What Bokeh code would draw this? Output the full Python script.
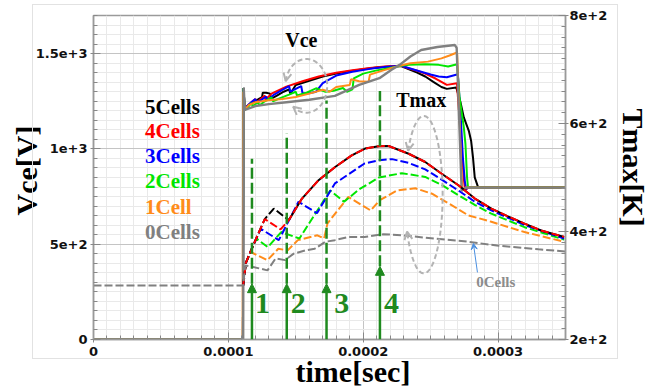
import numpy as np
from bokeh.plotting import figure
from bokeh.models import (Range1d, LinearAxis, FixedTicker, Label, Arrow, NormalHead,
                          OpenHead, VeeHead, Legend, LegendItem, Title, InlineStyleSheet)
from bokeh.embed import file_html
from bokeh.resources import INLINE

US = 1e-6  # time values below are in microseconds

names = ["5Cells", "4Cells", "3Cells", "2Cells", "1Cell", "0Cells"]
colors = ["#000000", "#ff0000", "#0000ff", "#00e600", "#ff8c1a", "#808080"]

# ---------------- Vce [V] (solid) ----------------
vce5_t = [0, 110.8, 111.2, 112.2, 114, 118, 122, 125, 125.5, 128, 131, 131.5, 136, 141, 145, 146, 150, 160, 170,
          180, 190, 200, 210, 220, 228, 234, 240, 246, 252, 258, 262, 269, 272.2, 274.6, 278.3, 280, 281.4, 282.7,
          285.1, 287, 350]
vce5_v = [0, 0, 1320, 1205, 1225, 1245, 1260, 1272, 1295, 1295, 1290, 1262, 1280, 1300, 1312, 1290, 1335, 1358,
          1380, 1396, 1408, 1418, 1427, 1432, 1435, 1418, 1400, 1380, 1352, 1325, 1315, 1322, 1243, 1165, 1095, 1043,
          956, 851, 801, 797, 797]
vce4_t = [0, 110.8, 111.2, 112.2, 114, 118, 120, 120.5, 124, 127, 127.5, 132, 143, 155, 167, 180, 192, 205, 216,
          228, 234, 240, 246, 254, 262, 269.5, 272, 274.5, 275.5, 278, 350]
vce4_v = [0, 0, 1320, 1205, 1225, 1250, 1262, 1240, 1262, 1280, 1258, 1290, 1327, 1355, 1380, 1400, 1413, 1424,
          1432, 1436, 1422, 1410, 1395, 1368, 1336, 1345, 1100, 850, 785, 797, 797]
vce3_t = [0, 110.8, 111.2, 112.2, 114, 117, 120, 121, 124, 128, 129, 134, 140, 145, 146, 150, 154, 155, 160, 165,
          170, 180, 192, 205, 216, 228, 241, 250, 256, 262, 270.2, 272.2, 273.9, 275.3, 276.3, 278, 350]
vce3_v = [0, 0, 1320, 1205, 1225, 1245, 1262, 1240, 1255, 1275, 1255, 1285, 1310, 1330, 1300, 1315, 1330, 1292,
          1292, 1300, 1345, 1385, 1405, 1420, 1430, 1436, 1409, 1390, 1380, 1376, 1392, 1183, 956, 834, 790, 797, 797]
vce2_t = [0, 110.8, 111.2, 112.2, 114, 117, 118, 122, 123, 127, 132, 133, 138, 145, 150, 151, 158, 165, 172, 178,
          185, 188, 192, 193, 200, 210, 220, 228, 234, 246, 256, 263, 269.6, 271.4, 274.6, 275.8, 277, 277.7, 280, 350]
vce2_v = [0, 0, 1320, 1205, 1215, 1240, 1225, 1245, 1228, 1250, 1270, 1250, 1265, 1285, 1300, 1280, 1295, 1318,
          1300, 1305, 1320, 1300, 1312, 1370, 1395, 1412, 1425, 1436, 1441, 1444, 1441, 1432, 1444, 1270, 1113, 1026,
          851, 799, 797, 797]
vce1_t = [0, 110.6, 111.0, 112.2, 115, 120, 130, 140, 150, 160, 170, 175, 180, 190, 191, 197, 204, 205, 215, 227,
          235, 248, 258, 264, 269.6, 271, 272.5, 273.5, 276, 350]
vce1_v = [0, 0, 1300, 1205, 1230, 1245, 1255, 1262, 1272, 1290, 1310, 1300, 1325, 1335, 1365, 1355, 1353, 1390,
          1412, 1436, 1449, 1458, 1475, 1490, 1506, 1250, 950, 785, 797, 797]
vce0_t = [0, 111.0, 111.4, 112.2, 120, 130, 143, 160, 179, 197, 212, 221, 227, 235, 243, 255, 268, 269.3, 273,
          276, 350]
vce0_v = [0, 0, 1320, 1205, 1225, 1235, 1245, 1258, 1278, 1336, 1371, 1415, 1441, 1485, 1519, 1535, 1545, 1530,
          780, 797, 797]

# ---------------- Tmax [K] (dashed) ----------------
tm5_t = [0, 111, 113, 118, 127, 133.7, 144.8, 154.6, 166.9, 179.2, 191.5, 201.3, 211.6, 218.9, 233.7, 246, 258.2,
         270.6, 282.8, 295, 307.3, 319.6, 331.8, 349]
tm5_k = [300, 300, 342, 372, 423, 442.5, 421, 461, 495, 519.5, 541, 553.5, 558, 558.3, 544, 528.7, 507, 485.6, 461,
         442.5, 428, 414.7, 402, 390]
tm4_t = [0, 111, 113, 118, 127, 138.7, 144.8, 154.6, 166.9, 179.2, 191.5, 201.3, 211.6, 218.9, 233.7, 246, 258.2,
         270.6, 282.8, 295, 307.3, 319.6, 331.8, 349]
tm4_k = [300, 300, 342, 372, 423, 404, 421, 461, 495, 519.5, 541, 553.5, 558, 558.3, 544, 528.7, 507, 485.6, 461,
         442.5, 428, 414.7, 402, 390]
tm3_t = [0, 111, 113, 118, 124, 137.4, 152, 165.7, 179, 191.5, 201, 211.6, 221.4, 233.7, 246, 258.2, 270.6, 282.8,
         295, 319.6, 349]
tm3_k = [300, 300, 342, 372, 405, 384, 455, 434, 489, 510, 526, 532, 534, 527, 515, 496, 476, 455, 439, 412, 387]
tm2_t = [0, 111, 113, 120.8, 129.3, 139.2, 152.7, 175.5, 185.8, 197, 211.6, 228.7, 246, 258.5, 270.7, 283, 295,
         319.6, 349]
tm2_k = [300, 300, 342, 387, 371, 399, 387, 476, 455, 478, 500, 508, 501, 486, 467, 449, 433, 408, 385]
tm1_t = [0, 111, 113, 116.5, 129, 137, 144, 151.5, 166, 171, 173.5, 189, 205.5, 212.3, 225, 238.6, 251, 265.5,
         277.8, 295, 319.6, 349]
tm1_k = [300, 300, 342, 362, 347, 368, 365, 384, 393, 387, 415, 464, 439, 458, 476, 480, 470, 449, 430, 418, 399,
         381]
tm0_t = [0, 111, 112.5, 119, 129, 135, 142, 148.5, 157, 164, 172, 179, 189, 201, 215, 228, 253, 278, 299, 330, 350]
tm0_k = [300, 300, 337, 334, 328, 350, 347, 359, 365, 368, 381, 384, 390, 390, 395, 393, 387, 381, 374, 367, 363]

# ---------------- markers 1..4 ----------------
marker_t = [117.5, 143.3, 172.8, 212.4]
marker_top_v = [949, 1081, 1254, 1304]
marker_tip_v = [293, 293, 293, 384]
marker_text = ["1", "2", "3", "4"]
marker_text_t = [125.4, 151.9, 184.0, 220.9]
marker_text_v = [190, 190, 190, 190]

# tick labels
x_ticks = [0, 1e-4, 2e-4, 3e-4]
x_tick_labels = ["0", "0.0001", "0.0002", "0.0003"]
v_ticks = [0, 500, 1000, 1500]
v_tick_labels = ["0", "5e+2", "1e+3", "1.5e+3"]
k_ticks = [200, 400, 600, 800]
k_tick_labels = ["2e+2", "4e+2", "6e+2", "8e+2"]

GREEN = "#1f8a1f"
SERIF = "Liberation Serif"

p = figure(width=657, height=392, x_range=Range1d(0, 350e-6), y_range=Range1d(0, 1700),
           output_backend="svg", toolbar_location=None,
           min_border_left=93, min_border_right=90, min_border_top=15, min_border_bottom=53)
p.extra_y_ranges = {"T": Range1d(200, 800)}
p.background_fill_color = "white"
p.border_fill_color = "white"
p.outline_line_color = "#9a9a9a"
p.outline_line_width = 1.5
# faint outer frame around the plotting block
p.stylesheets = [InlineStyleSheet(css=":host::after { content: ''; position: absolute; left: 32px; top: 4px; "
                                      "width: 584px; height: 353px; border: 1px solid #e2e2e2; "
                                      "pointer-events: none; }")]

xt = FixedTicker(ticks=x_ticks, minor_ticks=[i * 1e-5 for i in range(36)])
yt = FixedTicker(ticks=v_ticks, minor_ticks=list(range(0, 1701, 50)))
kt = FixedTicker(ticks=k_ticks, minor_ticks=list(range(200, 801, 20)))

p.xaxis.ticker = xt
p.yaxis.ticker = yt
p.xgrid.ticker = xt
p.ygrid.ticker = yt
p.xaxis.major_label_overrides = dict(zip(x_ticks, x_tick_labels))
p.yaxis.major_label_overrides = dict(zip(v_ticks, v_tick_labels))

axT = LinearAxis(y_range_name="T", ticker=kt, major_label_overrides=dict(zip(k_ticks, k_tick_labels)))
p.add_layout(axT, "right")

for ax in [p.xaxis[0], p.yaxis[0], axT]:
    ax.major_label_text_font = "DejaVu Sans"
    ax.major_label_text_font_style = "bold"
    ax.major_label_text_font_size = "13px"
    ax.major_label_text_color = "#111111"
    ax.axis_line_color = "#9a9a9a"
    ax.axis_line_width = 1.5
    ax.major_tick_line_color = "#888888"
    ax.minor_tick_line_color = "#888888"
    ax.major_tick_in = 7
    ax.major_tick_out = 3
    ax.minor_tick_in = 4
    ax.minor_tick_out = 0
p.xaxis.major_label_standoff = 4
p.yaxis.major_label_standoff = 3
axT.major_label_standoff = 1

for g in [p.xgrid[0], p.ygrid[0]]:
    g.grid_line_color = "#c4c4c4"
    g.minor_grid_line_color = "#e9e9e9"

# axis titles
title_style = dict(text_font=SERIF, text_font_style="bold", text_font_size="30px", text_color="black",
                   align="left")
p.add_layout(Title(text="Vce[V]", offset=124, standoff=-20, vertical_align="bottom", **title_style), "left")
p.add_layout(Title(text="time[sec]", offset=202, standoff=-8, vertical_align="top", **title_style), "below")
p.add_layout(Title(text="Tmax[K]", offset=93, standoff=12, vertical_align="bottom", **title_style), "right")

# ---------------- Vce lines ----------------
vce_sets = [(vce5_t, vce5_v), (vce4_t, vce4_v), (vce3_t, vce3_v), (vce2_t, vce2_v), (vce1_t, vce1_v),
            (vce0_t, vce0_v)]
for (t, v), c in zip(vce_sets, colors):
    p.line(np.array(t) * US, v, line_color=c, line_width=2.4 if c == colors[5] else 2)

# ---------------- Tmax lines ----------------
# (the pre-turn-on part at 300 K is shared by all series; only the 0Cells trace is drawn there)
DASH = "8 3"
for (t, k), c in [((tm1_t, tm1_k), colors[4]), ((tm2_t, tm2_k), colors[3]), ((tm3_t, tm3_k), colors[2])]:
    p.line(np.array(t[1:]) * US, k[1:], line_color=c, line_width=2, line_dash=DASH, y_range_name="T")
t5 = np.array(tm5_t)
k5 = np.array(tm5_k)
split = 144.8
early = (t5 <= split) & (t5 > 0)
p.line(t5[early] * US, k5[early], line_color=colors[0], line_width=2, line_dash=DASH, y_range_name="T")
p.line(t5[t5 >= split] * US, k5[t5 >= split], line_color=colors[0], line_width=2, y_range_name="T")
p.line(np.array(tm4_t[1:]) * US, tm4_k[1:], line_color=colors[1], line_width=2, line_dash=DASH, y_range_name="T")
p.line(np.array(tm0_t) * US, tm0_k, line_color=colors[5], line_width=2, line_dash=DASH, y_range_name="T")

# ---------------- markers ----------------
for t, top, tip, txt, tx, ty in zip(marker_t, marker_top_v, marker_tip_v, marker_text, marker_text_t, marker_text_v):
    p.line([t * US, t * US], [tip, top], line_color=GREEN, line_width=2.5, line_dash="11 4")
    p.add_layout(Arrow(end=NormalHead(size=9, fill_color=GREEN, line_color=GREEN, line_width=1),
                       x_start=t * US, y_start=0, x_end=t * US, y_end=tip,
                       line_color=GREEN, line_width=2.5))
    p.add_layout(Label(x=tx * US, y=ty, text=txt, text_align="center", text_baseline="alphabetic",
                       text_font=SERIF, text_font_style="bold", text_font_size="30px", text_color=GREEN))

# ---------------- circular arrows ----------------
ARC = "#b3b3b3"
def arc_xy(cx, cy, rx, ry, a):
    th = np.radians(a)
    return cx + rx * np.cos(th), cy + ry * np.sin(th)

for cx, cy, rx, ry, a0, a1 in [(157.8, 1331, 15.5, 141, 170, -129), (244.9, 760, 14.0, 413, 146, -152)]:
    ang = np.linspace(a0, a1, 80)
    xs, ys = arc_xy(cx, cy, rx, ry, ang)
    p.line(xs * US, ys, line_color=ARC, line_width=2, line_dash="5 3")
    for a_from, a_to in [(a0 - 12, a0), (a1 + 12, a1)]:
        x0, y0 = arc_xy(cx, cy, rx, ry, a_from)
        x1, y1 = arc_xy(cx, cy, rx, ry, a_to)
        p.add_layout(Arrow(end=OpenHead(size=8, line_color=ARC, line_width=2),
                           x_start=x0 * US, y_start=y0, x_end=x1 * US, y_end=y1, line_alpha=0))

# text annotations
p.add_layout(Label(x=154.1 * US, y=1514, text="Vce", text_align="center", text_font=SERIF,
                   text_font_style="bold", text_font_size="20px", text_color="black"))
p.add_layout(Label(x=243.0 * US, y=1200, text="Tmax", text_align="center", text_font=SERIF,
                   text_font_style="bold", text_font_size="20px", text_color="black"))
p.add_layout(Label(x=298.3 * US, y=258, text="0Cells", text_align="center", text_font=SERIF,
                   text_font_style="bold", text_font_size="15px", text_color="#8c8c8c"))
p.add_layout(Arrow(end=VeeHead(size=6, fill_color="#4a8fe0", line_color="#4a8fe0"),
                   x_start=284.7 * US, y_start=352, x_end=281.7 * US, y_end=504,
                   line_color="#4a8fe0", line_width=1))

# legend (one per entry so each label gets its own colour)
leg_rows_y = [107.7, 132.3, 157.3, 182.0, 208.0, 233.0]
for name, c, yc in zip(names, colors, leg_rows_y):
    r = p.line(x=[], y=[], line_color=c, line_width=5)
    leg = Legend(items=[LegendItem(label=name, renderers=[r])], location=(25, 339 - yc - 12),
                 label_text_font=SERIF, label_text_font_style="bold", label_text_font_size="21px",
                 label_text_color=c, glyph_width=25, glyph_height=20, label_height=20,
                 label_standoff=2, padding=0, margin=0, spacing=0,
                 background_fill_alpha=0, border_line_alpha=0)
    p.add_layout(leg)

open("out.html", "w").write(file_html(p, INLINE))
